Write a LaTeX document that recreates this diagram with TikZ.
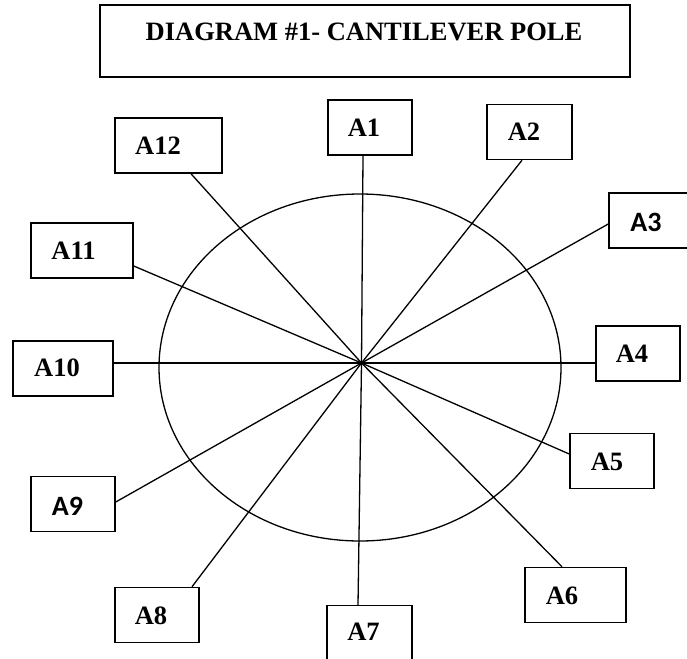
\documentclass[tikz,border=0pt]{standalone}
\usepackage{fontspec}
\setmainfont{Liberation Serif}
\newfontfamily\calibri{Carlito}
\usetikzlibrary{positioning}

\begin{document}
\begin{tikzpicture}[x=1pt,y=-1pt]
          \useasboundingbox (0,0) rectangle (687,658);
          \tikzstyle{every node} = [draw, rectangle, inner sep = 0pt, line width=1.5pt, minimum width=84pt, minimum height=55pt];
          \node[minimum width=530pt, minimum height=72pt](title) at (365,41) {};
          \node(a1) at (370,127.5) {};
          \node[minimum width=85pt](a2) at (529.5,132) {};
          \node(a3) at (651,220.5) {};
          \node(a4) at (638,353.5) {};
          \node(a5) at (612,461) {};
          \node[minimum width=101pt](a6) at (575.5,595) {};
          \node[minimum width=85pt](a7) at (369.5,633) {};
          \node(a8) at (157,615) {};
          \node(a9) at (73,504) {};
          \node[minimum width=100pt](a10) at (63,368.5) {};
          \node[minimum width=102pt](a11) at (82,250.5) {};
          \node[minimum width=107pt](a12) at (168.5,145.5) {};
          \tikzstyle{every node} = [font=\fontsize{26.5}{30}\selectfont\bfseries, inner sep = 0pt]
          \node(ttitle) at (364,32) {DIAGRAM \#1- CANTILEVER POLE};
          \node(t1) at (364,128) {A1};
          \node(t2) at (524,132) {A2};
          \node[font=\fontsize{28}{32}\calibri\bfseries](t3) at (646,222) {A3};
          \node(t4) at (632,354) {A4};
          \node(t5) at (607,461.5) {A5};
          \node(t6) at (562,595.5) {A6};
          \node(t7) at (363.5,632) {A7};
          \node(t8) at (151,615.5) {A8};
          \node[font=\fontsize{28}{32}\calibri\bfseries](t9) at (67.5,506) {A9};
          \node(t10) at (57,368) {A10};
          \node(t11) at (73.5,250.5) {A11};
          \node(t12) at (158,145.5) {A12};
          \draw[line width=1.3pt] (360,367.5) ellipse (201 and 173.5);
          \coordinate (c) at (361.5,363);
          \path[line width=1.3pt]
          ([xshift=-7pt]a1.south) edge (c)
          ([xshift=-7.5pt]a2.south) edge (c)
          ([yshift=-3.5pt]a3.west) edge (c)
          ([yshift=-9.5pt]a4.west) edge (c)
          ([yshift=7pt]a5.west) edge (c)
          ([xshift=-13.5pt]a6.north) edge (c)
          ([xshift=-11.5pt]a7.north) edge (c)
          ([xshift=35pt]a8.north) edge (c)
          ([yshift=2pt]a9.east) edge (c)
          ([yshift=5.5pt]a10.east) edge (c)
          ([yshift=-15.5pt]a11.east) edge (c)
          ([xshift=22.5pt]a12.south) edge (c);
\end{tikzpicture}
\end{document}
